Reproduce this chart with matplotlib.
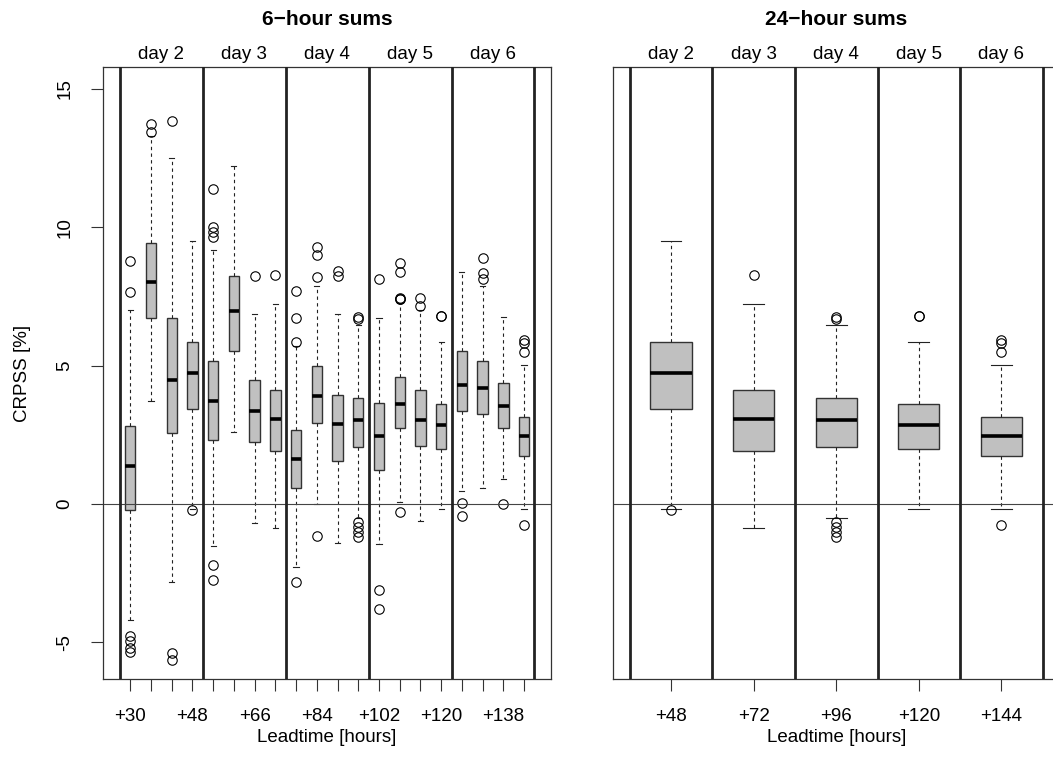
import matplotlib
matplotlib.use('Agg')
import matplotlib.pyplot as plt
import matplotlib.transforms as mtransforms

plt.rcParams['font.family'] = ['Liberation Sans', 'DejaVu Sans']

# leadtimes of the 6-hour sums (hours)
lead_6h = [30, 36, 42, 48, 54, 60, 66, 72, 78, 84, 90, 96, 102, 108, 114, 120, 126, 132, 138, 144]
med_6h = [1.36, 8.01, 4.49, 4.74, 3.74, 6.98, 3.37, 3.09, 1.63, 3.90,
          2.90, 3.03, 2.45, 3.61, 3.04, 2.84, 4.31, 4.19, 3.53, 2.46]
q1_6h = [-0.21, 6.74, 2.56, 3.45, 2.32, 5.53, 2.26, 1.92, 0.57, 2.92,
         1.55, 2.05, 1.23, 2.74, 2.10, 2.00, 3.35, 3.25, 2.74, 1.75]
q3_6h = [2.83, 9.43, 6.73, 5.86, 5.17, 8.25, 4.47, 4.12, 2.67, 4.98,
         3.95, 3.85, 3.65, 4.59, 4.11, 3.61, 5.52, 5.16, 4.37, 3.15]
wlo_6h = [-4.20, 3.71, -2.83, -0.17, -1.52, 2.60, -0.69, -0.85, -2.29, 0.02,
          -1.39, -0.52, -1.43, 0.08, -0.60, -0.16, 0.48, 0.59, 0.89, -0.17]
whi_6h = [7.00, 13.29, 12.49, 9.50, 9.18, 12.22, 6.88, 7.22, 5.71, 7.87,
          6.88, 6.46, 6.74, 7.25, 7.00, 5.86, 8.39, 7.87, 6.76, 5.01]
fliers_6h = [
    [8.78, 7.67, -4.77, -4.93, -5.19, -5.36],
    [13.74, 13.45],
    [13.84, -5.39, -5.63],
    [-0.21],
    [11.39, 10.02, 9.84, 9.66, -2.21, -2.75],
    [],
    [8.25],
    [8.27],
    [7.69, 6.73, 5.86, -2.83],
    [9.30, 9.00, 8.19, -1.15],
    [8.43, 8.24],
    [6.76, 6.67, -0.64, -0.82, -1.00, -1.18],
    [8.12, -3.09, -3.78],
    [8.72, 8.39, 7.43, 7.41, 7.40, -0.27],
    [7.46, 7.15],
    [6.80, 6.78],
    [0.05, -0.42],
    [8.90, 8.36, 8.15],
    [0.02],
    [5.94, 5.82, 5.50, -0.75],
]

# leadtimes of the 24-hour sums (same values as the 6-hour boxes at these leadtimes)
lead_24h = [48, 72, 96, 120, 144]
days = ['day 2', 'day 3', 'day 4', 'day 5', 'day 6']
yticks = [-5, 0, 5, 10, 15]


def make_stats(leads):
    stats = []
    for ld in leads:
        i = lead_6h.index(ld)
        stats.append(dict(med=med_6h[i], q1=q1_6h[i], q3=q3_6h[i],
                          whislo=wlo_6h[i], whishi=whi_6h[i], fliers=fliers_6h[i]))
    return stats


def draw_panel(ax, leads, seps, day_centers, xlim, title):
    pos = list(range(1, len(leads) + 1))
    ax.bxp(make_stats(leads), positions=pos, widths=0.5, capwidths=0.25,
           patch_artist=True, manage_ticks=False,
           boxprops=dict(facecolor='#c0c0c0', edgecolor='#333333', linewidth=1.0),
           medianprops=dict(color='black', linewidth=2.6, solid_capstyle='butt'),
           whiskerprops=dict(color='#222222', linewidth=0.8, linestyle=(0, (3, 3))),
           capprops=dict(color='#222222', linewidth=0.8),
           flierprops=dict(marker='o', markerfacecolor='none', markeredgecolor='black',
                           markersize=6.8, markeredgewidth=0.8, linestyle='none'))
    ax.axhline(0, color='#444444', lw=0.8, zorder=2.5)
    for s in seps:
        ax.axvline(s, color='#222222', lw=2.0, zorder=3)
    ax.set_xlim(*xlim)
    ax.set_ylim(-6.32, 15.79)
    trans = mtransforms.blended_transform_factory(ax.transData, ax.transAxes)
    for c, d in zip(day_centers, days):
        ax.text(c, 1.006, d, transform=trans, ha='center', va='bottom', fontsize=13.5)
    ax.set_title(title, fontsize=15, fontweight='bold', pad=30)
    ax.set_xlabel('Leadtime [hours]', fontsize=13.5, labelpad=3)
    for sp in ax.spines.values():
        sp.set_color('#333333')
        sp.set_linewidth(0.9)
    ax.tick_params(axis='both', length=8.5, width=0.8, color='#333333', labelsize=13.5)
    ax.tick_params(axis='x', pad=12)
    ax.tick_params(axis='y', pad=13)
    return pos


fig = plt.figure(figsize=(10.53, 7.74), dpi=100)
ax1 = fig.add_axes([0.0981, 0.1227, 0.4252, 0.7907])
ax2 = fig.add_axes([0.5824, 0.1227, 0.4235, 0.7907])

pos1 = draw_panel(ax1, lead_6h, [0.5, 4.5, 8.5, 12.5, 16.5, 20.5],
                  [2.5, 6.5, 10.5, 14.5, 18.5], (-0.3, 21.3), '6\u2212hour sums')
ax1.set_xticks(pos1)
ax1.set_xticklabels(['+%d' % ld if (ld - 30) % 18 == 0 else '' for ld in lead_6h])
ax1.set_yticks(yticks)
ax1.set_yticklabels([str(v) for v in yticks], rotation=90, va='center')
ax1.set_ylabel('CRPSS [%]', fontsize=13.5, labelpad=18)

pos2 = draw_panel(ax2, lead_24h, [0.5, 1.5, 2.5, 3.5, 4.5, 5.5],
                  [1, 2, 3, 4, 5], (0.3, 5.7), '24\u2212hour sums')
ax2.set_xticks(pos2)
ax2.set_xticklabels(['+%d' % ld for ld in lead_24h])
ax2.set_yticks([])

fig.savefig('out.png', dpi=100)
